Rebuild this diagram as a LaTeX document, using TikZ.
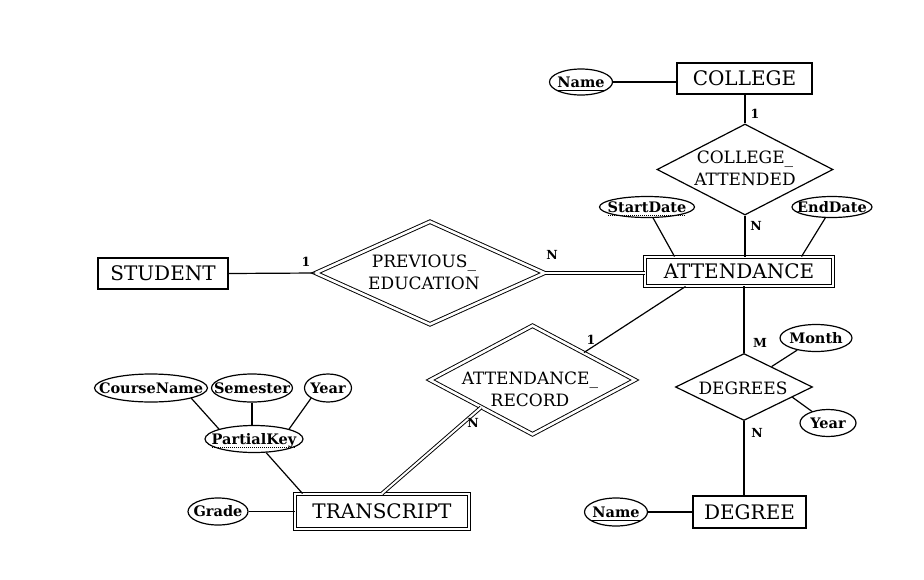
\documentclass[tikz,border=0pt]{standalone}
\usepackage{fontspec}
\setmainfont{DejaVu Serif}
\usetikzlibrary{shapes.geometric,calc}
\newcommand\att[1]{\makebox[0pt]{\raisebox{-.36em}[0pt][0pt]{#1}}}
\newcommand\solul[1]{\setbox0\hbox{#1}\rlap{\smash{\vrule height -2.4pt depth 3.2pt width \wd0}}\copy0}
\newcommand\dotul[1]{\setbox0\hbox{#1}\rlap{\smash{\raisebox{-3.2pt}{\hbox to \wd0{\leaders\hbox to 2pt{\hss\vrule height .8pt width 1pt\hss}\hfill}}}}\copy0}
\begin{document}
\begin{tikzpicture}[x=1pt,y=-1pt,
  line width=1.2pt,
  entity/.style={draw, rectangle, inner sep=0pt, font=\fontsize{20}{24}\selectfont},
  wentity/.style={entity, double, double distance=2.4pt, line width=0.95pt},
  rel/.style={draw, diamond, inner sep=0pt},
  wrel/.style={rel, double, double distance=2.6pt, line width=0.95pt},
  reltext/.style={font=\fontsize{17}{22}\selectfont, align=center, inner sep=0pt},
  attr/.style={draw, ellipse, inner sep=0pt, font=\bfseries\fontsize{14.5}{17}\selectfont},
  card/.style={font=\bfseries\fontsize{12.5}{14}\selectfont, inner sep=0pt},
  dline/.style={double, double distance=2pt, line width=0.95pt}
]
\useasboundingbox[fill=white] (0,0) rectangle (924,579);

% entities
\node[entity, minimum width=135pt, minimum height=31pt] (college) at (744.5,78.5) {COLLEGE};
\node[entity, minimum width=130pt, minimum height=31pt] (student) at (163,273.5) {STUDENT};
\node[entity, minimum width=113pt, minimum height=32pt] (degree) at (749.5,512) {DEGREE};
\node[wentity, minimum width=188pt, minimum height=29pt] (att) at (739,271.5) {ATTENDANCE};
\node[wentity, minimum width=174pt, minimum height=35pt] (trans) at (382,511.5) {TRANSCRIPT};

% relationships
\node[rel, minimum width=176pt, minimum height=91pt] (ca) at (745,169.5) {};
\node[reltext] (catext) at (745,168) {COLLEGE\_\\ATTENDED};
\node[wrel, minimum width=229pt, minimum height=103pt] (pe) at (430,273) {};
\node[reltext] (petext) at (424,272) {PREVIOUS\_\\EDUCATION};
\node[wrel, minimum width=205pt, minimum height=109pt] (ar) at (532.5,380) {};
\node[reltext] (artext) at (530,389) {ATTENDANCE\_\\RECORD};
\node[rel, minimum width=137pt, minimum height=67pt] (dg) at (744,387) {};
\node[reltext] (dgtext) at (743,388) {DEGREES};

% attributes
\node[attr, minimum width=63pt, minimum height=26pt] (cname) at (581,82) {\att{\solul{Name}}};
\node[attr, minimum width=95pt, minimum height=21pt] (sd) at (647,207) {\att{\dotul{StartDate}}};
\node[attr, minimum width=80pt, minimum height=21pt] (ed) at (832,207) {\att{EndDate}};
\node[attr, minimum width=72pt, minimum height=27pt] (month) at (816,338) {\att{Month}};
\node[attr, minimum width=56pt, minimum height=27pt] (dyear) at (828,423) {\att{Year}};
\node[attr, minimum width=63pt, minimum height=28pt] (dname) at (616,512) {\att{\solul{Name}}};
\node[attr, minimum width=60pt, minimum height=27pt] (grade) at (218,511.5) {\att{Grade}};
\node[attr, minimum width=113pt, minimum height=28pt] (cn) at (151,388) {\att{CourseName}};
\node[attr, minimum width=81pt, minimum height=28pt] (sem) at (252,388) {\att{Semester}};
\node[attr, minimum width=47pt, minimum height=28pt] (tyear) at (328,388) {\att{Year}};
\node[attr, minimum width=98pt, minimum height=27pt] (pk) at (254,439) {\att{\dotul{PartialKey}}};

% connectors
\draw (cname.east) -- (cname.east -| college.west);
\draw (ca.north) -- (ca.north |- college.south);
\draw (ca.south) -- (ca.south |- att.north);
\draw (sd) -- ($(att.north west)+(30,0)$);
\draw (ed) -- ($(att.north west)+(157,0)$);
\draw (student.east) -- (pe.west);
\draw[dline] (pe.east) -- (pe.east -| att.west);
\draw ($(att.south west)+(41,0)$) -- (ar.north east);
\draw (dg.north) -- (dg.north |- att.south);
\draw[dline] (ar.south west) -- (trans.north);
\draw (month) -- ($(dg.north)!0.4!(dg.east)$);
\draw (dyear) -- ($(dg.east)!0.3!(dg.south)$);
\draw (dg.south) -- (dg.south |- degree.north);
\draw (dname.east) -- (dname.east -| degree.west);
\draw (grade.east) -- (grade.east -| trans.west);
\draw (pk) -- ($(trans.north west)+(8,0)$);
\draw (cn.south east) -- (pk.north west);
\draw (sem.south) -- (sem.south |- pk.north);
\draw (tyear.south west) -- (pk.north east);

% cardinalities
\node[card] (c1) at (755,114) {1};
\node[card] (c2) at (756,226) {N};
\node[card] (c3) at (306,262) {1};
\node[card] (c4) at (552,255) {N};
\node[card] (c5) at (591,340) {1};
\node[card] (c6) at (473,423) {N};
\node[card] (c7) at (760,343) {M};
\node[card] (c8) at (757,433) {N};
\end{tikzpicture}
\end{document}
